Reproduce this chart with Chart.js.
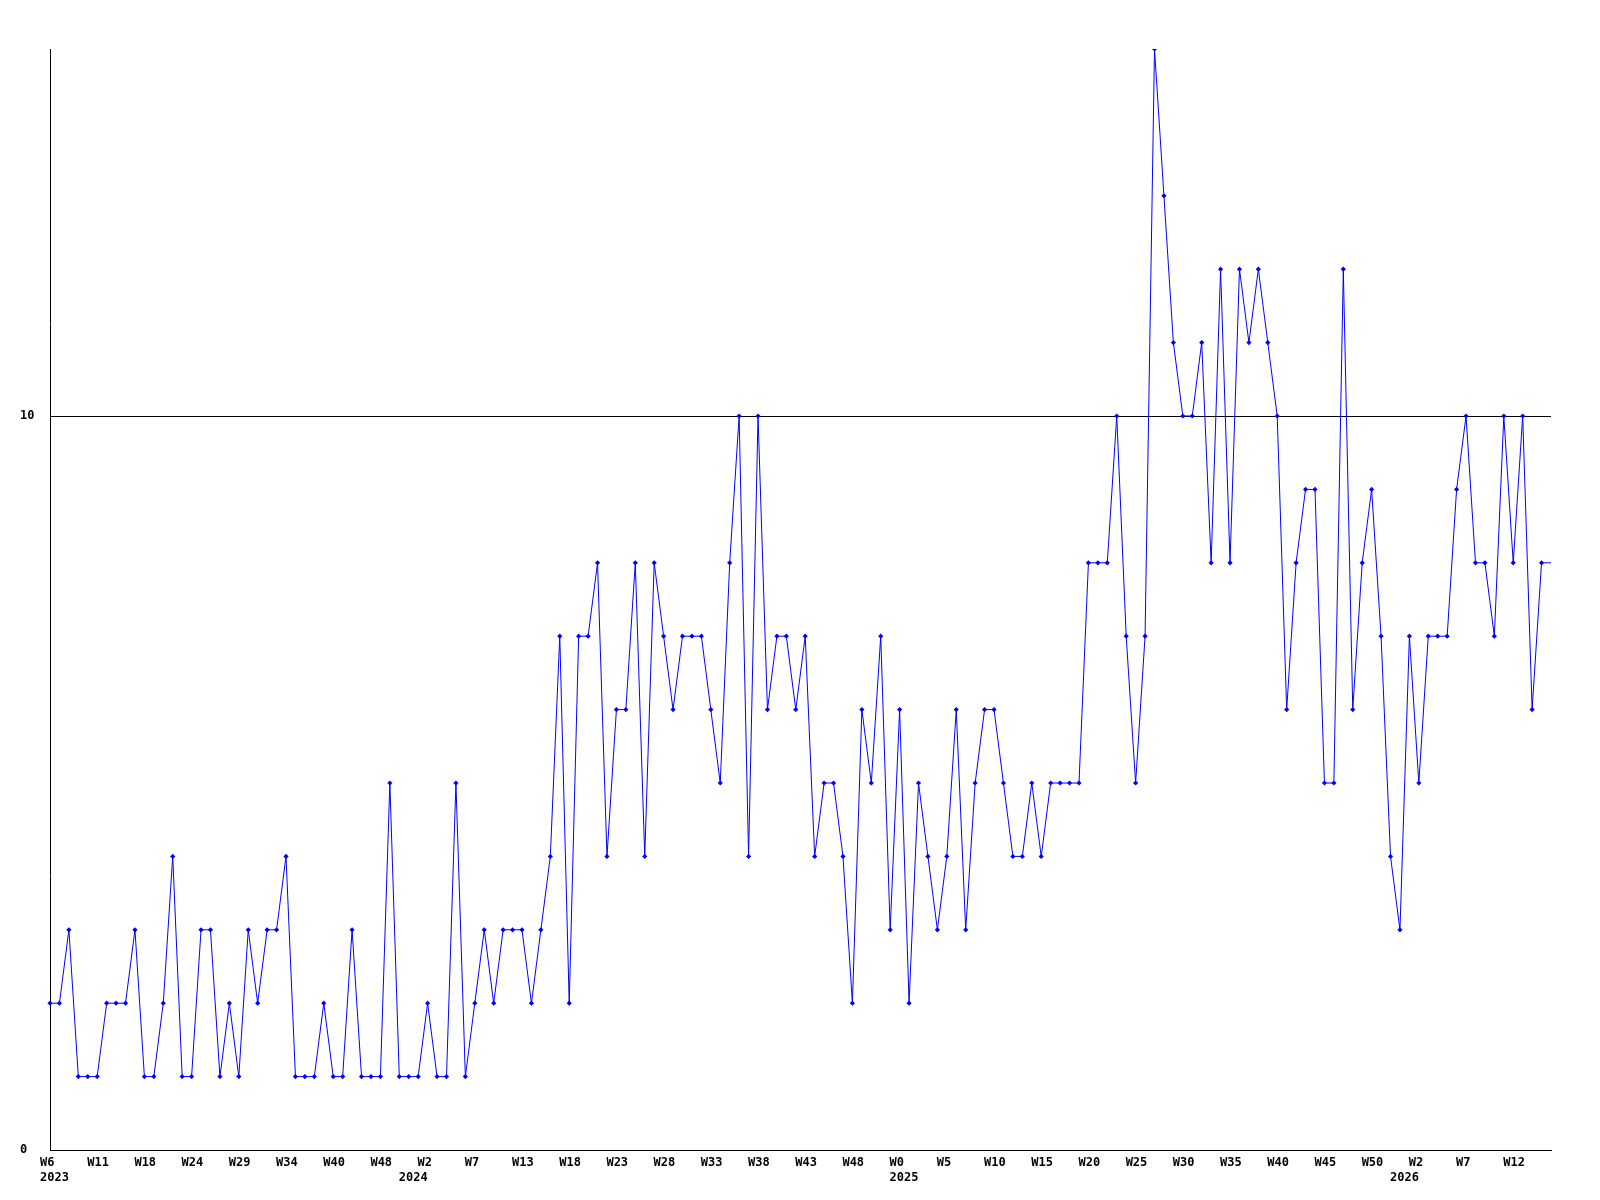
<!DOCTYPE html>
<html>
<head>
<meta charset="utf-8">
<script src="https://cdn.jsdelivr.net/npm/chart.js@4.4.1/dist/chart.umd.min.js"></script>
<style>
  html, body { margin: 0; padding: 0; background: #fff; }
  canvas { display: block; }
</style>
</head>
<body>
<canvas id="chart" width="1600" height="1200"></canvas>
<script>
// weekly counts, 2023 W6 .. 2026 W14 (last one is the running week)
const counts = [
  2, 2, 3, 1, 1, 1, 2, 2, 2, 3,
  1, 1, 2, 4, 1, 1, 3, 3, 1, 2,
  1, 3, 2, 3, 3, 4, 1, 1, 1, 2,
  1, 1, 3, 1, 1, 1, 5, 1, 1, 1,
  2, 1, 1, 5, 1, 2, 3, 2, 3, 3,
  3, 2, 3, 4, 7, 2, 7, 7, 8, 4,
  6, 6, 8, 4, 8, 7, 6, 7, 7, 7,
  6, 5, 8, 10, 4, 10, 6, 7, 7, 6,
  7, 4, 5, 5, 4, 2, 6, 5, 7, 3,
  6, 2, 5, 4, 3, 4, 6, 3, 5, 6,
  6, 5, 4, 4, 5, 4, 5, 5, 5, 5,
  8, 8, 8, 10, 7, 5, 7, 15, 13, 11,
  10, 10, 11, 8, 12, 8, 12, 11, 12, 11,
  10, 6, 8, 9, 9, 5, 5, 12, 6, 8,
  9, 7, 4, 3, 7, 5, 7, 7, 7, 9,
  10, 8, 8, 7, 10, 8, 10, 6, 8, 8
];

// one week label every 5 points
const weekTicks = [
  'W6', 'W11', 'W18', 'W24', 'W29', 'W34', 'W40', 'W48',
  'W2', 'W7', 'W13', 'W18', 'W23', 'W28', 'W33', 'W38', 'W43', 'W48',
  'W0', 'W5', 'W10', 'W15', 'W20', 'W25', 'W30', 'W35', 'W40', 'W45', 'W50',
  'W2', 'W7', 'W12'
];
const tickEvery = 5;

// year labels and the point where each year starts
const yearTicks = ['2023', '2024', '2025', '2026'];
const yearStart = [0, 38, 90, 143];

const yTicks = [0, 10];
const yMax = 15;

const weeks = counts.map((v, i) => i);
const monoFont = { family: '"DejaVu Sans Mono", "Liberation Mono", monospace', size: 12, weight: 'bold' };

function xLabel(i) {
  let week = i % tickEvery === 0 ? weekTicks[i / tickEvery] : '';
  let y = yearStart.indexOf(i);
  if (y >= 0) return [week || '', yearTicks[y]];
  return week || null;
}

new Chart(document.getElementById('chart'), {
  type: 'line',
  data: {
    labels: weeks,
    datasets: [{
      data: counts,
      borderColor: '#0000ff',
      backgroundColor: '#0000ff',
      borderWidth: 1,
      tension: 0,
      pointStyle: 'rectRot',
      pointRadius: ctx => ctx.dataIndex === counts.length - 1 ? 0 : 2.6,
      pointBorderWidth: 0,
      fill: false
    }]
  },
  options: {
    responsive: false,
    animation: false,
    layout: {
      padding: { left: 20, right: 49, top: 49, bottom: 0 }
    },
    plugins: {
      legend: { display: false },
      title: { display: false },
      tooltip: { enabled: false }
    },
    scales: {
      x: {
        type: 'category',
        offset: false,
        grid: { display: false, drawTicks: false },
        border: { display: true, color: '#000', width: 1 },
        ticks: {
          autoSkip: false,
          maxRotation: 0,
          minRotation: 0,
          align: 'start',
          labelOffset: -10,
          padding: 6,
          color: '#000',
          font: monoFont,
          callback: (val, i) => xLabel(i)
        },
        afterFit: axis => { axis.height = 50; }
      },
      y: {
        min: 0,
        max: yMax,
        grid: { color: '#000', lineWidth: 1, drawTicks: false },
        border: { display: true, color: '#000', width: 1 },
        afterBuildTicks: axis => { axis.ticks = yTicks.map(v => ({ value: v })); },
        ticks: {
          crossAlign: 'far',
          color: '#000',
          font: monoFont
        },
        afterFit: axis => { axis.width = 30; }
      }
    }
  }
});
</script>
</body>
</html>
